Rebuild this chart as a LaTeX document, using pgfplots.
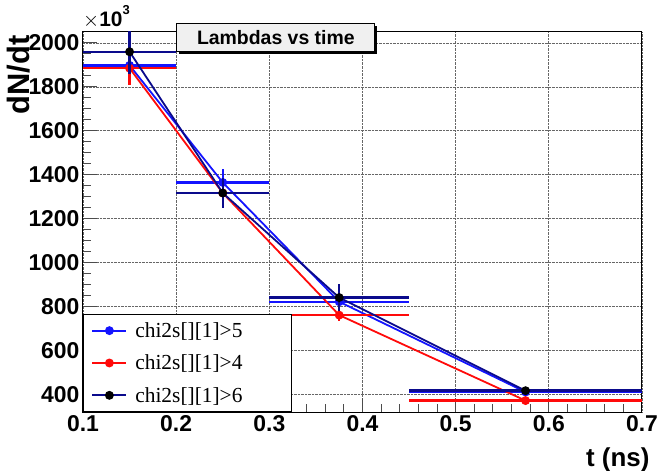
\documentclass[border=0pt]{standalone}
\usepackage{fontspec}
\setmainfont{Liberation Sans}
\newfontfamily\timesfont{Liberation Serif}
\usepackage{pgfplots}
\pgfplotsset{compat=1.18}
\usetikzlibrary{shadows}
\definecolor{rblue}{RGB}{20,20,255}
\definecolor{rred}{RGB}{255,10,10}
\definecolor{rnavy}{RGB}{10,10,140}
\pgfplotsset{
  rootplot/.style={line width=1.8bp, mark=*, mark size=3.5bp,
    error bars/.cd, x dir=both, x explicit, y dir=both, y explicit,
    error mark=none, error bar style={line width=2.4bp}}
}
\begin{document}
\begin{tikzpicture}
\path[use as bounding box] (-83bp,-59bp) rectangle (576bp,412bp);
\begin{axis}[
  scale only axis, width=559bp, height=380bp,
  xmin=0.1, xmax=0.7, ymin=320, ymax=2050,
  xtick={0.1,0.2,...,0.7}, ytick={400,600,...,2000},
  minor x tick num=4, minor y tick num=3,
  xtick pos=bottom, ytick pos=left, tick align=inside,
  major tick length=14bp, minor tick length=8bp,
  tick style={line width=1bp, black!70},
  axis line style={line width=1bp},
  grid=major, grid style={densely dotted, line width=0.8bp, black!60},
  tick label style={font=\fontsize{23}{23}\selectfont\bfseries},
  /pgf/number format/assume math mode=true,
  /pgf/number format/1000 sep={},
  xticklabel style={/pgf/number format/fixed, /pgf/number format/precision=1, /pgf/number format/fixed zerofill},
  xlabel={t (ns)},
  every axis x label/.style={at={(rel axis cs:1,0)}, anchor=north east, xshift=11bp, yshift=-32bp, font=\fontsize{26}{26}\selectfont\bfseries},
  clip mode=individual,
  legend style={at={(0,0)}, anchor=south west, draw=black, fill=white, line width=1bp,
    font=\timesfont\fontsize{21.5}{24}\selectfont, row sep=12bp,
    inner xsep=8bp, inner ysep=6bp, cells={anchor=west}},
  legend image code/.code={\draw[mark repeat=2, mark phase=2, #1] plot coordinates {(0bp,0bp) (17bp,0bp) (34bp,0bp)};
    \path (40bp,0bp);},
]
\addplot[rblue, mark options={fill=rblue, draw=rblue}, rootplot, error bar style={rblue}] coordinates {
  (0.15,1898) +- (0.05,75)
  (0.25,1365) +- (0.05,63)
  (0.375,822) +- (0.075,55)
  (0.575,411) +- (0.125,20)
};
\addlegendentry{\makebox[146bp][l]{chi2s[][1]>5}}
\addplot[rred, mark options={fill=rred, draw=rred}, rootplot, error bar style={rred}] coordinates {
  (0.15,1885) +- (0.05,75)
  (0.25,1317) +- (0.05,55)
  (0.375,761) +- (0.075,25)
  (0.575,372) +- (0.125,12)
};
\addlegendentry{chi2s[][1]>4}
\addplot[rnavy, mark options={fill=black, draw=black}, rootplot, error bar style={rnavy}] coordinates {
  (0.15,1960) +- (0.05,100)
  (0.25,1317) +- (0.05,67)
  (0.375,841) +- (0.075,60)
  (0.575,417) +- (0.125,15)
};
\addlegendentry{chi2s[][1]>6}
\node[draw=black, line width=1bp, fill=black!6, minimum width=198bp, minimum height=28bp,
  drop shadow={shadow xshift=2.5bp, shadow yshift=-2.5bp, fill=black, opacity=1},
  font=\fontsize{19.5}{19.5}\selectfont\bfseries] at (rel axis cs:0.345,0.985) {Lambdas vs time};
\node[rotate=90, anchor=base east, font=\fontsize{31}{31}\selectfont\bfseries] at ([xshift=-53bp]rel axis cs:0,1) {dN/dt};
\node[anchor=base west, inner sep=0pt, font=\fontsize{21}{21}\selectfont\bfseries] at ([yshift=5bp]rel axis cs:0,1) {$\times$10\raisebox{12bp}{\fontsize{13}{13}\selectfont 3}};
\end{axis}
\end{tikzpicture}
\end{document}
